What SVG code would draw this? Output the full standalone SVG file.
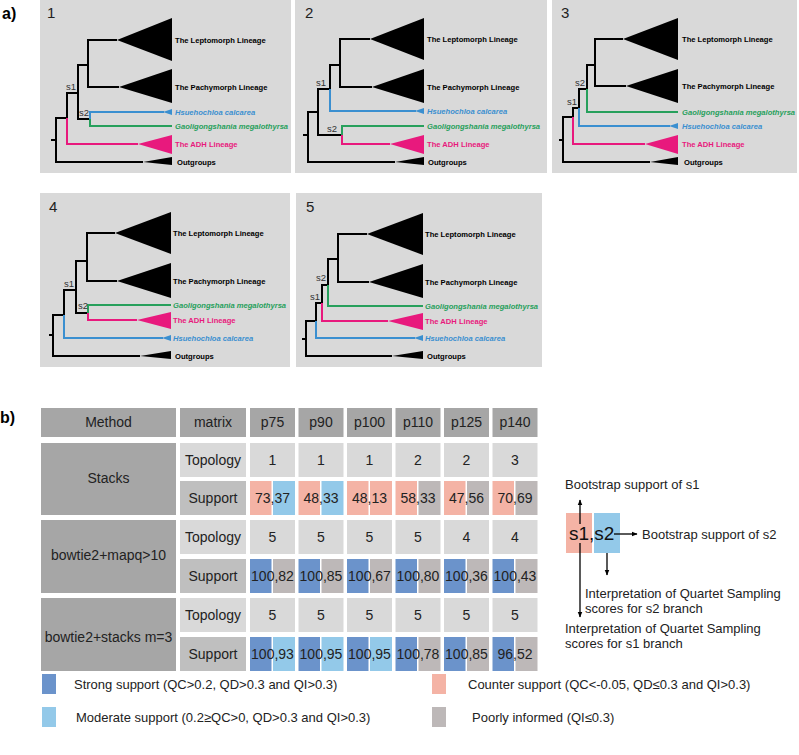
<svg xmlns="http://www.w3.org/2000/svg" width="799" height="755" viewBox="0 0 799 755">
<style>
text{font-family:"Liberation Sans",Arial,sans-serif}
.panel{fill:#d9d9d9}
.k{stroke:#000;stroke-width:2;fill:none}
.bl{stroke:#3a8fd0;stroke-width:2;fill:none}
.gr{stroke:#27a05c;stroke-width:2;fill:none}
.pk{stroke:#e8197d;stroke-width:2;fill:none}
.tk{fill:#000}
.tb{fill:#3a8fd0}
.tp{fill:#e8197d}
.lab{font-size:7.6px;font-weight:bold}
.it{font-style:italic}
.lb{fill:#000}
.lbb{fill:#3a8fd0}
.lgg{fill:#27a05c}
.lpp{fill:#e8197d}
.num{font-size:15px;fill:#222}
.s{font-size:9.5px;fill:#333}
.hd{fill:#a6a6a6}
.lt{fill:#d9d9d9}
.md{fill:#bfbfbf}
.cs{fill:#6b93cb}
.cm{fill:#93c9e9}
.cc{fill:#f4b3a5}
.cp{fill:#bdb8b8}
.tt{font-size:14px;fill:#222;text-anchor:middle}
.lg{font-size:13px;fill:#222}
.ab{font-size:16px;font-weight:bold;fill:#000}
.ar{stroke:#000;stroke-width:1.3;fill:none}
</style>
<defs>
<marker id="ah" viewBox="0 0 10 10" refX="9" refY="5" markerWidth="6" markerHeight="6" orient="auto" markerUnits="userSpaceOnUse">
<path d="M0,1 L10,5 L0,9 z" fill="#000"/>
</marker>
</defs>

<text class="ab" x="2" y="19">a)</text>
<text class="ab" x="0" y="423">b)</text>

<g id="panel1">
<rect class="panel" x="40" y="0" width="251" height="173"/>
<text class="num" x="47" y="18">1</text>
<path class="k" d="M117,40 H88 V87 H119 M88,65 H78 V119 H90 M78,93 H67 V118 M67,118 H56 V162 H143 M51,140 H56"/>
<path class="bl" d="M90,119 V112 H164"/>
<path class="gr" d="M90,119 V126 H172"/>
<path class="pk" d="M67,118 V144 H138"/>
<polygon class="tk" points="117,40 172,18 172,61"/>
<polygon class="tk" points="119,87 172,69 172,103"/>
<polygon class="tb" points="163,112 172,109 172,115"/>
<polygon class="tp" points="138,144 172,135 172,154"/>
<polygon class="tk" points="143,162 172,157 172,165"/>
<text class="s" x="66" y="90">s1</text>
<text class="s" x="79" y="116">s2</text>
<text class="lab lb" x="175" y="43">The Leptomorph Lineage</text>
<text class="lab lb" x="175" y="90">The Pachymorph Lineage</text>
<text class="lab it lbb" x="175" y="115">Hsuehochloa calcarea</text>
<text class="lab it lgg" x="175" y="129">Gaoligongshania megalothyrsa</text>
<text class="lab lpp" x="175" y="147">The ADH Lineage</text>
<text class="lab lb" x="177" y="165">Outgroups</text>
</g>

<g id="panel2">
<rect class="panel" x="295" y="0" width="252" height="173"/>
<text class="num" x="305" y="18">2</text>
<path class="k" d="M370,39 H340 V87 H372 M340,65 H330 V89 M330,89 H318 V135 H342 M318,112 H308 V162 H395 M303,135 H308"/>
<path class="bl" d="M330,89 V111 H416"/>
<path class="gr" d="M342,135 V126 H424"/>
<path class="pk" d="M342,135 V144 H390"/>
<polygon class="tk" points="370,39 424,18 424,60"/>
<polygon class="tk" points="372,87 424,69 424,103"/>
<polygon class="tb" points="415,111 424,108 424,114"/>
<polygon class="tp" points="390,144 424,135 424,154"/>
<polygon class="tk" points="395,162 424,157 424,165"/>
<text class="s" x="316" y="86">s1</text>
<text class="s" x="327" y="132">s2</text>
<text class="lab lb" x="427" y="42">The Leptomorph Lineage</text>
<text class="lab lb" x="427" y="90">The Pachymorph Lineage</text>
<text class="lab it lbb" x="427" y="114">Hsuehochloa calcarea</text>
<text class="lab it lgg" x="427" y="129">Gaoligongshania megalothyrsa</text>
<text class="lab lpp" x="427" y="147">The ADH Lineage</text>
<text class="lab lb" x="428" y="165">Outgroups</text>
</g>

<g id="panel3">
<rect class="panel" x="552" y="0" width="245" height="173"/>
<text class="num" x="561" y="18">3</text>
<path class="k" d="M623,39 H595 V86 H626 M595,65 H587 V89 M587,89 H579 V108 M579,108 H573 V117 M573,117 H563 V162 H650 M559,140 H563"/>
<path class="gr" d="M587,89 V112 H678"/>
<path class="bl" d="M579,108 V126 H670"/>
<path class="pk" d="M573,117 V144 H645"/>
<polygon class="tk" points="623,39 678,18 678,60"/>
<polygon class="tk" points="626,86 678,69 678,103"/>
<polygon class="tb" points="669,126 678,123 678,129"/>
<polygon class="tp" points="645,144 678,135 678,154"/>
<polygon class="tk" points="650,162 678,157 678,165"/>
<text class="s" x="575" y="86">s2</text>
<text class="s" x="567" y="105">s1</text>
<text class="lab lb" x="682" y="42">The Leptomorph Lineage</text>
<text class="lab lb" x="682" y="89">The Pachymorph Lineage</text>
<text class="lab it lgg" x="682" y="115">Gaoligongshania megalothyrsa</text>
<text class="lab it lbb" x="682" y="129">Hsuehochloa calcarea</text>
<text class="lab lpp" x="682" y="147">The ADH Lineage</text>
<text class="lab lb" x="684" y="165">Outgroups</text>
</g>

<g id="panel4">
<rect class="panel" x="40" y="193" width="250" height="174"/>
<text class="num" x="49" y="212">4</text>
<path class="k" d="M115,233 H87 V281 H117 M87,261 H76 V313 H88 M76,290 H64 V315 M64,315 H53 V356 H140 M49,335 H53"/>
<path class="gr" d="M88,313 V305 H171"/>
<path class="pk" d="M88,313 V320 H137"/>
<path class="bl" d="M64,315 V338 H163"/>
<polygon class="tk" points="115,233 171,212 171,254"/>
<polygon class="tk" points="117,281 171,263 171,298"/>
<polygon class="tp" points="137,320 171,312 171,329"/>
<polygon class="tb" points="162,338 171,335 171,341"/>
<polygon class="tk" points="140,356 171,351 171,359"/>
<text class="s" x="64" y="287">s1</text>
<text class="s" x="78" y="309">s2</text>
<text class="lab lb" x="173" y="236">The Leptomorph Lineage</text>
<text class="lab lb" x="173" y="284">The Pachymorph Lineage</text>
<text class="lab it lgg" x="173" y="308">Gaoligongshania megalothyrsa</text>
<text class="lab lpp" x="173" y="323">The ADH Lineage</text>
<text class="lab it lbb" x="173" y="341">Hsuehochloa calcarea</text>
<text class="lab lb" x="175" y="359">Outgroups</text>
</g>

<g id="panel5">
<rect class="panel" x="296" y="193" width="246" height="174"/>
<text class="num" x="306" y="212">5</text>
<path class="k" d="M367,234 H338 V282 H369 M338,259 H328 V285 M328,285 H322 V303 M322,303 H316 V321 M316,321 H306 V356 H392 M302,339 H306"/>
<path class="gr" d="M328,285 V306 H423"/>
<path class="pk" d="M322,303 V321 H388"/>
<path class="bl" d="M316,321 V338 H415"/>
<polygon class="tk" points="367,234 423,213 423,255"/>
<polygon class="tk" points="369,282 423,264 423,298"/>
<polygon class="tp" points="388,321 423,313 423,330"/>
<polygon class="tb" points="414,338 423,335 423,341"/>
<polygon class="tk" points="392,356 423,351 423,359"/>
<text class="s" x="316" y="281">s2</text>
<text class="s" x="310" y="300">s1</text>
<text class="lab lb" x="425" y="237">The Leptomorph Lineage</text>
<text class="lab lb" x="425" y="285">The Pachymorph Lineage</text>
<text class="lab it lgg" x="425" y="309">Gaoligongshania megalothyrsa</text>
<text class="lab lpp" x="425" y="324">The ADH Lineage</text>
<text class="lab it lbb" x="425" y="341">Hsuehochloa calcarea</text>
<text class="lab lb" x="427" y="359">Outgroups</text>
</g>

<g id="table">
<rect class="hd" x="41" y="408" width="135" height="29"/>
<rect class="hd" x="180" y="408" width="66" height="29"/>
<rect class="hd" x="250" y="408" width="45" height="29"/>
<rect class="hd" x="298.5" y="408" width="45" height="29"/>
<rect class="hd" x="347" y="408" width="45" height="29"/>
<rect class="hd" x="395.5" y="408" width="45" height="29"/>
<rect class="hd" x="444" y="408" width="45" height="29"/>
<rect class="hd" x="492.5" y="408" width="45" height="29"/>
<text class="tt" x="108.5" y="427">Method</text>
<text class="tt" x="213" y="427">matrix</text>
<text class="tt" x="272.5" y="427">p75</text>
<text class="tt" x="321" y="427">p90</text>
<text class="tt" x="369.5" y="427">p100</text>
<text class="tt" x="418" y="427">p110</text>
<text class="tt" x="466.5" y="427">p125</text>
<text class="tt" x="515" y="427">p140</text>

<rect class="hd" x="41" y="443" width="135" height="72"/>
<rect class="hd" x="41" y="520" width="135" height="73"/>
<rect class="hd" x="41" y="598" width="135" height="73"/>
<text class="tt" x="108.5" y="483">Stacks</text>
<text class="tt" x="108.5" y="560">bowtie2+mapq&gt;10</text>
<text class="tt" x="108.5" y="642">bowtie2+stacks m=3</text>

<rect class="lt" x="180" y="443" width="66" height="34"/>
<rect class="md" x="180" y="481" width="66" height="34"/>
<rect class="lt" x="180" y="520" width="66" height="34"/>
<rect class="md" x="180" y="559" width="66" height="34"/>
<rect class="lt" x="180" y="598" width="66" height="34"/>
<rect class="md" x="180" y="637" width="66" height="34"/>
<text class="tt" x="213" y="465">Topology</text>
<text class="tt" x="213" y="503">Support</text>
<text class="tt" x="213" y="542">Topology</text>
<text class="tt" x="213" y="581">Support</text>
<text class="tt" x="213" y="620">Topology</text>
<text class="tt" x="213" y="659">Support</text>

<g id="topo-rows">
<rect class="lt" x="250" y="443" width="45" height="34"/>
<rect class="lt" x="298.5" y="443" width="45" height="34"/>
<rect class="lt" x="347" y="443" width="45" height="34"/>
<rect class="lt" x="395.5" y="443" width="45" height="34"/>
<rect class="lt" x="444" y="443" width="45" height="34"/>
<rect class="lt" x="492.5" y="443" width="45" height="34"/>
<text class="tt" x="272.5" y="465">1</text>
<text class="tt" x="321" y="465">1</text>
<text class="tt" x="369.5" y="465">1</text>
<text class="tt" x="418" y="465">2</text>
<text class="tt" x="466.5" y="465">2</text>
<text class="tt" x="515" y="465">3</text>

<rect class="lt" x="250" y="520" width="45" height="34"/>
<rect class="lt" x="298.5" y="520" width="45" height="34"/>
<rect class="lt" x="347" y="520" width="45" height="34"/>
<rect class="lt" x="395.5" y="520" width="45" height="34"/>
<rect class="lt" x="444" y="520" width="45" height="34"/>
<rect class="lt" x="492.5" y="520" width="45" height="34"/>
<text class="tt" x="272.5" y="542">5</text>
<text class="tt" x="321" y="542">5</text>
<text class="tt" x="369.5" y="542">5</text>
<text class="tt" x="418" y="542">5</text>
<text class="tt" x="466.5" y="542">4</text>
<text class="tt" x="515" y="542">4</text>

<rect class="lt" x="250" y="598" width="45" height="34"/>
<rect class="lt" x="298.5" y="598" width="45" height="34"/>
<rect class="lt" x="347" y="598" width="45" height="34"/>
<rect class="lt" x="395.5" y="598" width="45" height="34"/>
<rect class="lt" x="444" y="598" width="45" height="34"/>
<rect class="lt" x="492.5" y="598" width="45" height="34"/>
<text class="tt" x="272.5" y="620">5</text>
<text class="tt" x="321" y="620">5</text>
<text class="tt" x="369.5" y="620">5</text>
<text class="tt" x="418" y="620">5</text>
<text class="tt" x="466.5" y="620">5</text>
<text class="tt" x="515" y="620">5</text>
</g>

<g id="support-rows">
<rect class="cc" x="250" y="481" width="21.5" height="34"/><rect class="cm" x="273" y="481" width="22" height="34"/>
<rect class="cc" x="298.5" y="481" width="21.5" height="34"/><rect class="cm" x="321.5" y="481" width="22" height="34"/>
<rect class="cc" x="347" y="481" width="21.5" height="34"/><rect class="cc" x="370" y="481" width="22" height="34"/>
<rect class="cc" x="395.5" y="481" width="21.5" height="34"/><rect class="cp" x="418.5" y="481" width="22" height="34"/>
<rect class="cc" x="444" y="481" width="21.5" height="34"/><rect class="cp" x="467" y="481" width="22" height="34"/>
<rect class="cc" x="492.5" y="481" width="21.5" height="34"/><rect class="cp" x="515.5" y="481" width="22" height="34"/>
<text class="tt" x="272.5" y="503">73,37</text>
<text class="tt" x="321" y="503">48,33</text>
<text class="tt" x="369.5" y="503">48,13</text>
<text class="tt" x="418" y="503">58,33</text>
<text class="tt" x="466.5" y="503">47,56</text>
<text class="tt" x="515" y="503">70,69</text>

<rect class="cs" x="250" y="559" width="21.5" height="34"/><rect class="cp" x="273" y="559" width="22" height="34"/>
<rect class="cs" x="298.5" y="559" width="21.5" height="34"/><rect class="cp" x="321.5" y="559" width="22" height="34"/>
<rect class="cs" x="347" y="559" width="21.5" height="34"/><rect class="cp" x="370" y="559" width="22" height="34"/>
<rect class="cs" x="395.5" y="559" width="21.5" height="34"/><rect class="cp" x="418.5" y="559" width="22" height="34"/>
<rect class="cs" x="444" y="559" width="21.5" height="34"/><rect class="cp" x="467" y="559" width="22" height="34"/>
<rect class="cs" x="492.5" y="559" width="21.5" height="34"/><rect class="cp" x="515.5" y="559" width="22" height="34"/>
<text class="tt" x="272.5" y="581">100,82</text>
<text class="tt" x="321" y="581">100,85</text>
<text class="tt" x="369.5" y="581">100,67</text>
<text class="tt" x="418" y="581">100,80</text>
<text class="tt" x="466.5" y="581">100,36</text>
<text class="tt" x="515" y="581">100,43</text>

<rect class="cs" x="250" y="637" width="21.5" height="34"/><rect class="cm" x="273" y="637" width="22" height="34"/>
<rect class="cs" x="298.5" y="637" width="21.5" height="34"/><rect class="cm" x="321.5" y="637" width="22" height="34"/>
<rect class="cs" x="347" y="637" width="21.5" height="34"/><rect class="cm" x="370" y="637" width="22" height="34"/>
<rect class="cs" x="395.5" y="637" width="21.5" height="34"/><rect class="cp" x="418.5" y="637" width="22" height="34"/>
<rect class="cs" x="444" y="637" width="21.5" height="34"/><rect class="cp" x="467" y="637" width="22" height="34"/>
<rect class="cs" x="492.5" y="637" width="21.5" height="34"/><rect class="cp" x="515.5" y="637" width="22" height="34"/>
<text class="tt" x="272.5" y="659">100,93</text>
<text class="tt" x="321" y="659">100,95</text>
<text class="tt" x="369.5" y="659">100,95</text>
<text class="tt" x="418" y="659">100,78</text>
<text class="tt" x="466.5" y="659">100,85</text>
<text class="tt" x="515" y="659">96,52</text>
</g>
</g>

<g id="key">
<rect class="cc" x="566" y="513" width="26" height="40"/>
<rect class="cm" x="594" y="513" width="26" height="40"/>
<text x="569" y="540" font-size="19" fill="#111">s1,s2</text>
</g>
<g id="connectors">
<path class="ar" d="M580,524 V500" marker-end="url(#ah)"/>
<path class="ar" d="M580,543 V617" marker-end="url(#ah)"/>
<path class="ar" d="M614,534 H637" marker-end="url(#ah)"/>
<path class="ar" d="M607,553 V575" marker-end="url(#ah)"/>
</g>
<g id="key-labels">
<text class="lg" x="565" y="489">Bootstrap support of s1</text>
<text class="lg" x="642" y="539">Bootstrap support of s2</text>
<text class="lg" x="585" y="598">Interpretation of Quartet Sampling</text>
<text class="lg" x="585" y="613">scores for s2 branch</text>
<text class="lg" x="565" y="633">Interpretation of Quartet Sampling</text>
<text class="lg" x="565" y="648">scores for s1 branch</text>
</g>

<g id="legend">
<rect class="cs" x="42" y="674" width="14" height="20"/>
<text class="lg" x="74" y="689">Strong support (QC&gt;0.2, QD&gt;0.3 and QI&gt;0.3)</text>
<rect class="cm" x="42" y="707" width="14" height="20"/>
<text class="lg" x="76" y="722">Moderate support (0.2≥QC&gt;0, QD&gt;0.3 and QI&gt;0.3)</text>
<rect class="cc" x="432" y="674" width="14" height="20"/>
<text class="lg" x="468" y="689">Counter support (QC&lt;-0.05, QD≤0.3 and QI&gt;0.3)</text>
<rect class="cp" x="432" y="707" width="14" height="20"/>
<text class="lg" x="472" y="722">Poorly informed (QI≤0.3)</text>
</g>
</svg>
